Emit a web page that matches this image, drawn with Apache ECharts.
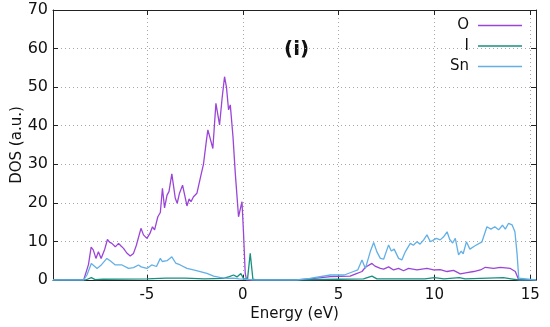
<!DOCTYPE html>
<html>
<head>
<meta charset="utf-8">
<script src="https://cdn.jsdelivr.net/npm/echarts@6/dist/echarts.min.js"></script>
<style>html,body{margin:0;padding:0;background:#fff}#c{width:550px;height:327px}</style>
</head>
<body>
<div id="c"></div>
<script>
// ---- data ----
const seriesNames = ['O', 'I', 'Sn'];
const panelLabel = '(i)';
const xTitle = 'Energy (eV)';
const yTitle = 'DOS (a.u.)';

const oEnergy = [-9.9,-8.3,-8.2,-8.05,-7.91,-7.8,-7.66,-7.53,-7.39,-7.2,-7.06,-6.95,-6.83,-6.65,-6.48,-6.35,-6.22,-6.05,-5.87,-5.7,-5.55,-5.31,-5.18,-5.0,-4.85,-4.71,-4.6,-4.43,-4.3,-4.19,-4.08,-3.95,-3.85,-3.7,-3.52,-3.42,-3.3,-3.14,-2.91,-2.8,-2.7,-2.57,-2.39,-2.18,-2.05,-1.9,-1.82,-1.7,-1.56,-1.4,-1.21,-1.08,-0.95,-0.85,-0.74,-0.65,-0.51,-0.39,-0.22,-0.04,0.04,0.13,0.2,2.8,3.5,4.57,5.6,5.9,6.22,6.4,6.74,6.9,7.18,7.35,7.61,7.87,8.13,8.39,8.65,9.09,9.61,9.96,10.3,10.66,11.0,11.35,11.7,12.05,12.4,12.66,13.09,13.44,13.96,14.22,14.4,15.3];
const oDos    = [0,0,0.4,4,8.5,7.8,5.6,7.3,5.6,8.0,10.5,9.8,9.5,8.6,9.5,8.8,8.2,7.0,6.2,6.9,9.0,13.4,11.7,10.8,12.0,13.8,13.0,16.4,17.5,23.8,18.7,22,22.9,27.5,21.2,19.9,22.5,24.6,19.2,21,20.3,21.6,22.5,27.2,30,36,38.9,36.7,34.1,45.8,40.2,47,52.7,50,44.1,45.4,37.2,27.7,16.4,20.3,12.2,1.7,0,0,0.3,0.9,1.0,1.6,2.2,3.3,4.3,3.6,3.0,2.8,3.4,2.6,3.0,2.4,3.0,2.6,3.0,2.6,2.7,2.2,2.5,1.6,1.9,2.2,2.6,3.3,3.0,3.3,3.0,2.2,0,0];

const iEnergy = [-9.9,-8.2,-7.9,-7.7,-7.3,-5,-4,-3,-2,-1,-0.7,-0.48,-0.3,-0.1,0.05,0.25,0.39,0.53,0.7,3,5,6.3,6.74,7.0,8,9.5,10,10.5,11.3,11.6,13.6,14.0,14.4,15.3];
const iDos    = [0,0,0.6,0.1,0.2,0.3,0.5,0.5,0.3,0.4,0.9,1.3,0.8,1.7,0.3,0.3,6.9,0.2,0,0,0.2,0.3,1.0,0.3,0.3,0.3,0.6,0.3,0.6,0.3,0.6,0.3,0,0];

const snEnergy = [-9.9,-8.3,-8.13,-7.9,-7.8,-7.6,-7.4,-7.09,-6.9,-6.65,-6.3,-5.96,-5.7,-5.44,-5.3,-5.0,-4.75,-4.5,-4.3,-4.2,-3.95,-3.7,-3.5,-3.26,-2.91,-2.57,-2.22,-1.87,-1.52,-1.2,-0.82,-0.5,-0.2,0.2,0.5,2.8,3.5,4.57,5.3,5.78,6.0,6.22,6.4,6.65,6.83,7.0,7.18,7.35,7.61,7.75,7.9,8.13,8.3,8.48,8.74,8.9,9.09,9.25,9.44,9.61,9.79,9.96,10.1,10.3,10.48,10.66,10.8,10.95,11.09,11.26,11.4,11.5,11.67,11.85,12.1,12.48,12.74,12.95,13.15,13.35,13.55,13.7,13.87,14.05,14.2,14.31,14.4,14.5,15.3];
const snDos    = [0,0,1.3,4.3,3.8,3.0,3.8,5.6,4.9,3.9,3.9,3.0,3.2,3.9,3.4,3.0,3.9,3.5,5.6,4.8,5.0,6.0,4.4,3.9,3.0,2.6,2.2,1.7,1.0,0.7,0.4,0.5,0.3,0.2,0,0,0.4,1.3,1.3,2.2,2.6,5.2,3.0,7.3,9.7,7.3,5.6,5.4,9.1,7.5,8.0,5.6,5.2,7.3,9.5,9.0,9.9,9.3,10.4,11.7,9.9,10.4,10.8,10.4,11.2,12.5,10.5,9.6,10.8,6.5,7.5,6.8,9.9,8.0,8.8,9.9,13.8,13.2,13.8,13.0,14.2,13.2,14.7,14.3,12.5,6.9,0.5,0,0];

const xTickLabels = [-5, 0, 5, 10, 15];
const yTickLabels = [0, 10, 20, 30, 40, 50, 60, 70];

// ---- chart ----
const colors = { O: '#9b45d8', I: '#17907f', Sn: '#62b0e6' };
const pairs = (xs, ys) => xs.map((x, i) => [x, ys[i]]);
const seriesData = { O: pairs(oEnergy, oDos), I: pairs(iEnergy, iDos), Sn: pairs(snEnergy, snDos) };

const FONT = 'DejaVu Sans';
const gridLine = { show: true, lineStyle: { color: '#a8a8a8', type: [1, 3], width: 1 } };
const axisLineS = { show: true, onZero: false, lineStyle: { color: '#222', width: 1 } };
const tickS = { show: true, inside: true, length: 5, lineStyle: { color: '#222' } };

const chart = echarts.init(document.getElementById('c'), null, { renderer: 'canvas' });
chart.setOption({
  animation: false,
  backgroundColor: '#fff',
  textStyle: { fontFamily: FONT },
  grid: { left: 53, right: 14, top: 10, bottom: 47, containLabel: false, outerBoundsMode: 'none' },
  legend: seriesNames.map((n, k) => ({
    data: [n],
    right: 28,
    top: 18 + k * 20.5,
    orient: 'vertical',
    align: 'right',
    padding: 0,
    icon: 'rect',
    itemWidth: 44,
    itemHeight: 1.6,
    textStyle: { fontFamily: FONT, fontSize: 15, color: '#111', padding: [0, 4, 0, 0] }
  })),
  xAxis: [
    {
      type: 'value', min: -9.9, max: 15.3, splitNumber: 5,
      name: xTitle, nameLocation: 'middle', nameGap: 27, nameMoveOverlap: false,
      nameTextStyle: { fontFamily: FONT, fontSize: 15, color: '#111' },
      axisLine: axisLineS,
      axisTick: tickS,
      axisLabel: {
        fontFamily: FONT, fontSize: 15, color: '#111', margin: 8,
        formatter: v => (xTickLabels.some(t => Math.abs(t - v) < 1e-6) ? String(v) : '')
      },
      splitLine: gridLine
    },
    {
      type: 'value', position: 'top', min: -9.9, max: 15.3, splitNumber: 5,
      axisLine: axisLineS,
      axisTick: tickS,
      axisLabel: { show: false }, splitLine: { show: false }
    }
  ],
  yAxis: [
    {
      type: 'value', min: 0, max: 70, interval: 10,
      name: yTitle, nameLocation: 'middle', nameGap: 28, nameRotate: 90, nameMoveOverlap: false,
      nameTextStyle: { fontFamily: FONT, fontSize: 15, color: '#111' },
      axisLine: axisLineS,
      axisTick: tickS,
      axisLabel: {
        fontFamily: FONT, fontSize: 16, color: '#111', margin: 5,
        formatter: v => (yTickLabels.includes(v) ? String(v) : '')
      },
      splitLine: gridLine
    },
    {
      type: 'value', position: 'right', min: 0, max: 70, interval: 10,
      axisLine: axisLineS,
      axisTick: tickS,
      axisLabel: { show: false }, splitLine: { show: false }
    }
  ],
  graphic: [{
    type: 'text', left: 284, top: 40,
    style: { text: panelLabel, font: 'bold 20px "DejaVu Sans"', fill: '#111' }
  }],
  series: seriesNames.map(n => ({
    name: n, type: 'line', xAxisIndex: 0, yAxisIndex: 0,
    data: seriesData[n], symbol: 'none', showSymbol: false,
    lineStyle: { color: colors[n], width: 1.3 },
    itemStyle: { color: colors[n] },
    z: n === 'Sn' ? 3 : 2
  }))
});
</script>
</body>
</html>
